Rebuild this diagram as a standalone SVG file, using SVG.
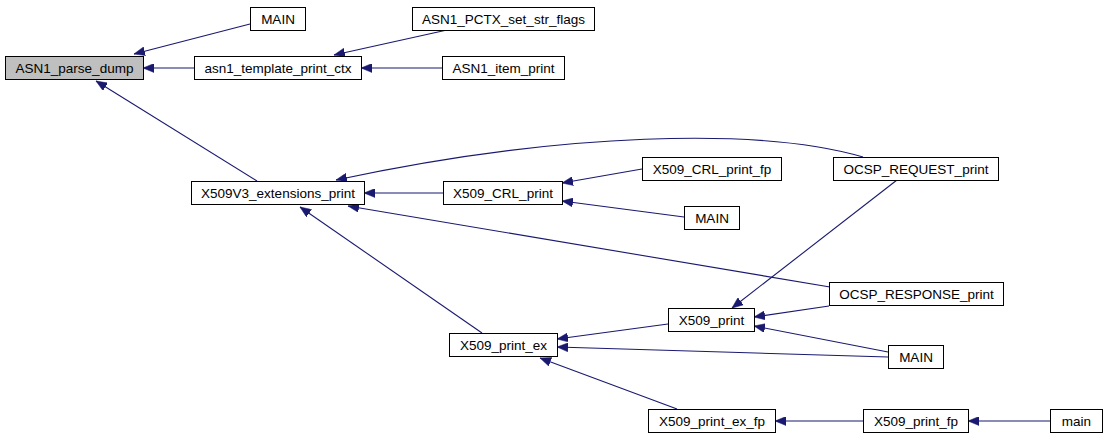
<svg xmlns="http://www.w3.org/2000/svg" width="1106" height="439" viewBox="0 0 1106 439">
<style>
.n rect{fill:#ffffff;stroke:#000000;stroke-width:1}
.n.g rect{fill:#bfbfbf}
.n text{font-family:"Liberation Sans",Arial,sans-serif;font-size:13.5px;fill:#000000;text-anchor:middle}
.e path{fill:none;stroke:#191970;stroke-width:1.1;marker-end:url(#ah)}
</style>
<defs>
<marker id="ah" viewBox="0 0 11 9" refX="11" refY="4.5" markerWidth="11" markerHeight="9" markerUnits="userSpaceOnUse" orient="auto">
<path d="M0,0 L11,4.5 L0,9 z" fill="#191970" stroke="#191970" stroke-width="0.5"/>
</marker>
</defs>
<rect width="1106" height="439" fill="#ffffff"/>
<g id="edges" class="e">
<path d="M250,24 L134,54"/>
<path d="M194,68 L143,68"/>
<path d="M257,181 L96,81"/>
<path d="M447,30 L334,55"/>
<path d="M442,68 L361,68"/>
<path d="M443,193 L364,193"/>
<path d="M863,157 C760,127 560,132 336,180"/>
<path d="M642,169 L562,183"/>
<path d="M684,217 L562,201"/>
<path d="M830,287 L348,206"/>
<path d="M482,333 L300,207"/>
<path d="M897,180 L732,308"/>
<path d="M829,306 L754,317"/>
<path d="M888,352 L754,326"/>
<path d="M668,324 L557,339"/>
<path d="M888,357 L557,347"/>
<path d="M677,409 L540,358"/>
<path d="M863,421 L775,421"/>
<path d="M1050,421 L968,421"/>
</g>
<g id="n_ASN1_parse_dump" class="n g"><rect x="5.5" y="56.5" width="138" height="23"/><text x="74.5" y="72.5">ASN1_parse_dump</text></g>
<g id="n_MAIN1" class="n"><rect x="250.5" y="7.5" width="55" height="23"/><text x="278" y="23.5">MAIN</text></g>
<g id="n_asn1_template_print_ctx" class="n"><rect x="194.5" y="56.5" width="167" height="23"/><text x="278" y="72.5">asn1_template_print_ctx</text></g>
<g id="n_ASN1_PCTX_set_str_flags" class="n"><rect x="412.5" y="7.5" width="182" height="23"/><text x="503.5" y="23.5">ASN1_PCTX_set_str_flags</text></g>
<g id="n_ASN1_item_print" class="n"><rect x="442.5" y="56.5" width="122" height="23"/><text x="503.5" y="72.5">ASN1_item_print</text></g>
<g id="n_X509V3_extensions_print" class="n"><rect x="191.5" y="181.5" width="173" height="23"/><text x="278" y="197.5">X509V3_extensions_print</text></g>
<g id="n_X509_CRL_print" class="n"><rect x="443.5" y="181.5" width="119" height="23"/><text x="503" y="197.5">X509_CRL_print</text></g>
<g id="n_X509_CRL_print_fp" class="n"><rect x="642.5" y="157.5" width="139" height="23"/><text x="712" y="173.5">X509_CRL_print_fp</text></g>
<g id="n_MAIN2" class="n"><rect x="684.5" y="206.5" width="55" height="23"/><text x="712" y="222.5">MAIN</text></g>
<g id="n_OCSP_REQUEST_print" class="n"><rect x="833.5" y="157.5" width="165" height="23"/><text x="916" y="173.5">OCSP_REQUEST_print</text></g>
<g id="n_OCSP_RESPONSE_print" class="n"><rect x="829.5" y="282.5" width="174" height="23"/><text x="916.5" y="298.5">OCSP_RESPONSE_print</text></g>
<g id="n_X509_print" class="n"><rect x="668.5" y="308.5" width="86" height="23"/><text x="711.5" y="324.5">X509_print</text></g>
<g id="n_X509_print_ex" class="n"><rect x="449.5" y="333.5" width="108" height="23"/><text x="503.5" y="349.5">X509_print_ex</text></g>
<g id="n_MAIN3" class="n"><rect x="888.5" y="345.5" width="55" height="23"/><text x="916" y="361.5">MAIN</text></g>
<g id="n_X509_print_ex_fp" class="n"><rect x="648.5" y="409.5" width="127" height="23"/><text x="712" y="425.5">X509_print_ex_fp</text></g>
<g id="n_X509_print_fp" class="n"><rect x="863.5" y="409.5" width="105" height="23"/><text x="916" y="425.5">X509_print_fp</text></g>
<g id="n_main" class="n"><rect x="1050.5" y="409.5" width="52" height="23"/><text x="1076.5" y="425.5">main</text></g>
</svg>
